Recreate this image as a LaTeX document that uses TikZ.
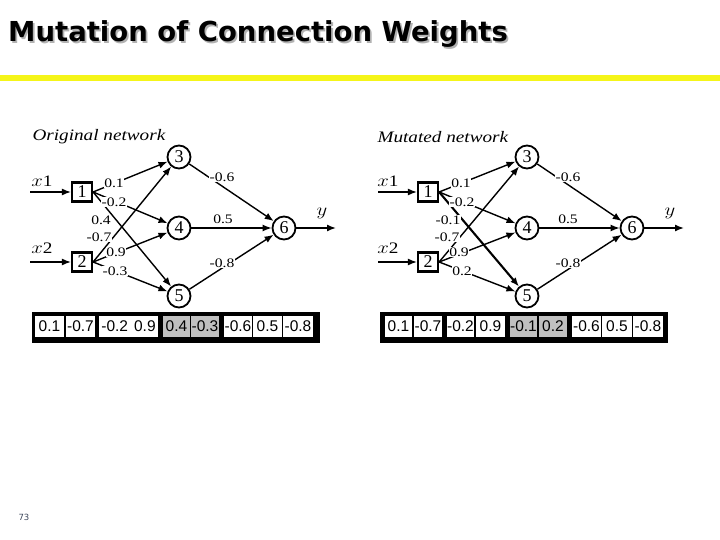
\documentclass[tikz,border=0pt]{standalone}
\usepackage{fontspec}
\setmainfont{Liberation Serif}
\newfontfamily\titlefont{DejaVu Sans}
\newfontfamily\cellfont{Liberation Sans}
\usetikzlibrary{arrows.meta}
\newcommand{\hs}[1]{\scalebox{1.2}[1]{#1}}
\newcommand{\shadowtext}[1]{\rlap{\hspace{1.8pt}\raisebox{-1.8pt}{\textcolor{gray!60}{#1}}}#1}
\definecolor{barcolor}{RGB}{245,245,25}
\definecolor{cgray}{RGB}{192,192,192}
\definecolor{pnum}{RGB}{60,70,90}
\tikzset{
  neuron/.style={circle,draw,line width=1.8pt,minimum size=23pt,inner sep=0pt,font=\fontsize{18}{18}\selectfont},
  inbox/.style={rectangle,draw,line width=2.2pt,minimum width=20pt,minimum height=19pt,inner sep=0pt,font=\fontsize{18}{18}\selectfont},
  conn/.style={line width=1.4pt,-{Latex[length=9pt,width=7pt]}},
  wlab/.style={fill=white,inner sep=0.6pt,font=\fontsize{13}{13}\selectfont},
  nlab/.style={font=\fontsize{16}{16}\selectfont\itshape,anchor=west},
  iolab/.style={font=\fontsize{16}{16}\selectfont},
  cell/.style={fill=white,inner sep=0pt,minimum height=21pt,font=\cellfont\fontsize{15.5}{15.5}\selectfont},
  gcell/.style={cell,fill=cgray},
  chrom/.style={fill=black}
}
\begin{document}
\begin{tikzpicture}[x=1pt,y=-1pt]
\useasboundingbox (0,0) rectangle (720,540);
% title
\node[anchor=base west,inner sep=0pt] (title) at (8,42) {\titlefont\bfseries\fontsize{27.5}{27.5}\selectfont\shadowtext{Mutation of Connection Weights}};
\fill[fill=barcolor] (0,75) rectangle (720,81);
\node[anchor=west,text=pnum,font=\titlefont\fontsize{8.5}{8.5}\selectfont] (page) at (15,517) {73};

% ---------- left network ----------
\node[nlab] (Lt) at (29,137) {\hs{Original network}};
\node[inbox] (L1) at (82,192) {1};
\node[inbox] (L2) at (82,262) {2};
\node[neuron] (L3) at (179,157) {3};
\node[neuron] (L4) at (179,228) {4};
\node[neuron] (L5) at (179,296) {5};
\node[neuron] (L6) at (284,228) {6};
\coordinate (Lx1) at (30,192);
\coordinate (Lx2) at (30,262);
\coordinate (Ly) at (336,228);
\node[iolab] (Lx1l) at (42,181) {\hs{$x$1}};
\node[iolab] (Lx2l) at (42,248) {\hs{$x$2}};
\node[iolab] (Lyl) at (322,213) {\hs{$y$}};
\draw[conn] (Lx1) -- (L1);
\draw[conn] (Lx2) -- (L2);
\draw[conn] (L1.east) -- (L3);
\draw[conn] (L1.east) -- (L4);
\draw[conn] (L1.east) -- (L5);
\draw[conn] (L2.east) -- (L3);
\draw[conn] (L2.east) -- (L4);
\draw[conn] (L2.east) -- (L5);
\draw[conn] (L3) -- (L6);
\draw[conn] (L4) -- (L6);
\draw[conn] (L5) -- (L6);
\draw[conn] (L6) -- (Ly);
\node[wlab] at (114,183) {\hs{0.1}};
\node[wlab] at (114,202) {\hs{-0.2}};
\node[wlab] at (101,220) {\hs{0.4}};
\node[wlab] at (99,237) {\hs{-0.7}};
\node[wlab] at (116,252) {\hs{0.9}};
\node[wlab] at (115,271) {\hs{-0.3}};
\node[wlab] at (222,177) {\hs{-0.6}};
\node[wlab] at (223,219) {\hs{0.5}};
\node[wlab] at (222,263) {\hs{-0.8}};
% left chromosome
\fill[chrom] (32,312) rectangle (320,343);
\node[cell,minimum width=29pt] (Lc1) at (49.5,326.5) {0.1};
\node[cell,minimum width=29pt] (Lc2) at (80.5,326.5) {-0.7};
\node[cell,minimum width=59pt] (Lc3) at (128.5,326.5) {-0.2\hspace{6pt}0.9};
\node[gcell,minimum width=27pt] (Lc5) at (176.5,326.5) {0.4};
\node[gcell,minimum width=28pt] (Lc6) at (205,326.5) {-0.3};
\node[cell,minimum width=28pt] (Lc7) at (238,326.5) {-0.6};
\node[cell,minimum width=29pt] (Lc8) at (267.5,326.5) {0.5};
\node[cell,minimum width=30pt] (Lc9) at (298,326.5) {-0.8};

% ---------- right network ----------
\node[nlab] (Rt) at (374,137) {\hs{Mutated network}};
\node[inbox] (R1) at (428,192) {1};
\node[inbox] (R2) at (428,262) {2};
\node[neuron] (R3) at (527,157) {3};
\node[neuron] (R4) at (527,228) {4};
\node[neuron] (R5) at (527,296) {5};
\node[neuron] (R6) at (632,228) {6};
\coordinate (Rx1) at (378,192);
\coordinate (Rx2) at (378,262);
\coordinate (Ry) at (684,228);
\node[iolab] (Rx1l) at (388,181) {\hs{$x$1}};
\node[iolab] (Rx2l) at (388,248) {\hs{$x$2}};
\node[iolab] (Ryl) at (670,213) {\hs{$y$}};
\draw[conn] (Rx1) -- (R1);
\draw[conn] (Rx2) -- (R2);
\draw[conn] (R1.east) -- (R3);
\draw[conn] (R1.east) -- (R4);
\draw[conn,line width=2.1pt] (R1.east) -- (R5);
\draw[conn] (R2.east) -- (R3);
\draw[conn] (R2.east) -- (R4);
\draw[conn] (R2.east) -- (R5);
\draw[conn] (R3) -- (R6);
\draw[conn] (R4) -- (R6);
\draw[conn] (R5) -- (R6);
\draw[conn] (R6) -- (Ry);
\node[wlab] at (461,183) {\hs{0.1}};
\node[wlab] at (462,202) {\hs{-0.2}};
\node[wlab] at (448,220) {\hs{-0.1}};
\node[wlab] at (447,237) {\hs{-0.7}};
\node[wlab] at (459,252) {\hs{0.9}};
\node[wlab] at (462,271) {\hs{0.2}};
\node[wlab] at (568,177) {\hs{-0.6}};
\node[wlab] at (568,219) {\hs{0.5}};
\node[wlab] at (568,263) {\hs{-0.8}};
% right chromosome
\fill[chrom] (380,312) rectangle (668,343);
\node[cell,minimum width=27pt] (Rc1) at (398.5,326.5) {0.1};
\node[cell,minimum width=28pt] (Rc2) at (428,326.5) {-0.7};
\node[cell,minimum width=27pt] (Rc3) at (460.5,326.5) {-0.2};
\node[cell,minimum width=29pt] (Rc4) at (490.5,326.5) {0.9};
\node[gcell,minimum width=27pt] (Rc5) at (523.5,326.5) {-0.1};
\node[gcell,minimum width=28pt] (Rc6) at (553,326.5) {0.2};
\node[cell,minimum width=29pt] (Rc7) at (586.5,326.5) {-0.6};
\node[cell,minimum width=30pt] (Rc8) at (617,326.5) {0.5};
\node[cell,minimum width=30pt] (Rc9) at (648,326.5) {-0.8};
\end{tikzpicture}
\end{document}
